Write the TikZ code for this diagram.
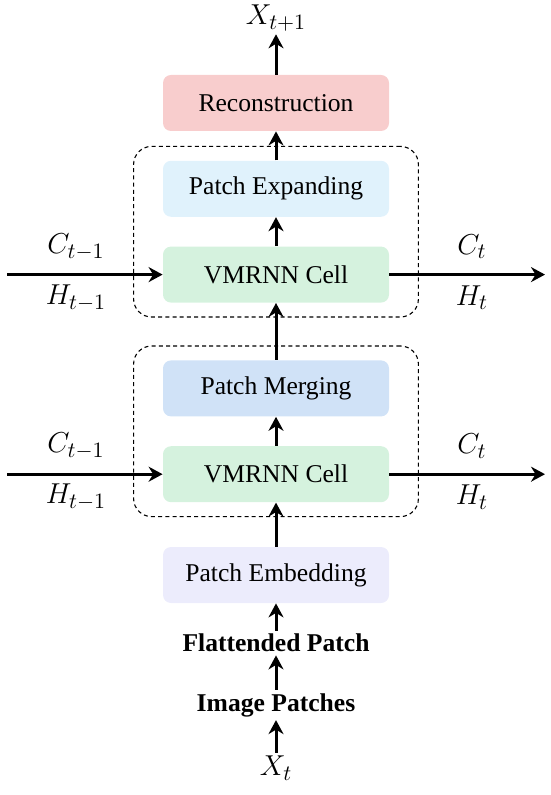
\documentclass[tikz,border=0pt]{standalone}
\usepackage{fontspec}
\setmainfont{Liberation Serif}
\usepackage{tikz}
\usetikzlibrary{arrows.meta, positioning, fit}
\definecolor{reconfill}{RGB}{248,205,205}
\definecolor{expandfill}{RGB}{224,242,252}
\definecolor{cellfill}{RGB}{213,242,222}
\definecolor{mergefill}{RGB}{208,226,247}
\definecolor{embedfill}{RGB}{236,236,252}
\tikzset{
  layer/.style={rectangle, rounded corners=4pt, minimum width=113pt, minimum height=28pt, text centered, fill=#1, font=\fontsize{12.8}{15}\selectfont},
  group/.style={rectangle, rounded corners=9pt, draw=black, dashed, dash pattern=on 2pt off 1.6pt, line width=0.55pt, inner xsep=14.5pt, inner ysep=7pt},
  textlabel/.style={inner sep=1.5pt, font=\fontsize{12.8}{15}\selectfont},
  mathlabel/.style={inner sep=1.5pt, font=\fontsize{15}{17}\selectfont},
  arrowline/.style={-{Stealth[length=7pt, width=7.5pt]}, line width=1.5pt},
}
\begin{document}
\begin{tikzpicture}[x=0.5pt, y=-0.5pt, node distance=14.5pt]
\useasboundingbox (0,0) rectangle (550,795);
\node[layer=reconfill] (recon) at (276,103) {Reconstruction};
\node[layer=expandfill, below=of recon] (expand) {Patch Expanding};
\node[layer=cellfill, below=of expand] (cellA) {VMRNN Cell};
\node[layer=mergefill, below=28.5pt of cellA] (merge) {Patch Merging};
\node[layer=cellfill, below=of merge] (cellB) {VMRNN Cell};
\node[layer=embedfill, below=22pt of cellB] (embed) {Patch Embedding};
\node[textlabel] (flat) at (276,643) {\textbf{Flattended Patch}};
\node[textlabel] (patches) at (276,705) {\textbf{Image Patches}};
\node[mathlabel] (xt) at (276,768) {$X_t$};
\node[mathlabel] (xnext) at (276,18) {$X_{t+1}$};

\node[group, fit=(expand)(cellA)] (groupA) {};
\node[group, fit=(merge)(cellB)] (groupB) {};

% recurrent states
\coordinate (inside) at (7,0);
\coordinate (outside) at (545,0);
\node[mathlabel] (cinA) at (76,247) {$C_{t-1}$};
\node[mathlabel] (hinA) at (76,298) {$H_{t-1}$};
\node[mathlabel] (coutA) at (472,247) {$C_t$};
\node[mathlabel] (houtA) at (472,298) {$H_t$};
\node[mathlabel] (cinB) at (76,446) {$C_{t-1}$};
\node[mathlabel] (hinB) at (76,497) {$H_{t-1}$};
\node[mathlabel] (coutB) at (472,446) {$C_t$};
\node[mathlabel] (houtB) at (472,497) {$H_t$};

\draw[arrowline] (xt) -- (patches);
\draw[arrowline] (patches) -- (flat);
\draw[arrowline] (flat) -- (embed);
\draw[arrowline] (embed) -- (cellB);
\draw[arrowline] (cellB) -- (merge);
\draw[arrowline] (merge) -- (cellA);
\draw[arrowline] (cellA) -- (expand);
\draw[arrowline] (expand) -- (recon);
\draw[arrowline] (recon) -- (xnext);
\draw[arrowline] (cellA.west -| inside) -- (cellA.west);
\draw[arrowline] (cellA.east) -- (cellA.east -| outside);
\draw[arrowline] (cellB.west -| inside) -- (cellB.west);
\draw[arrowline] (cellB.east) -- (cellB.east -| outside);
\end{tikzpicture}
\end{document}
